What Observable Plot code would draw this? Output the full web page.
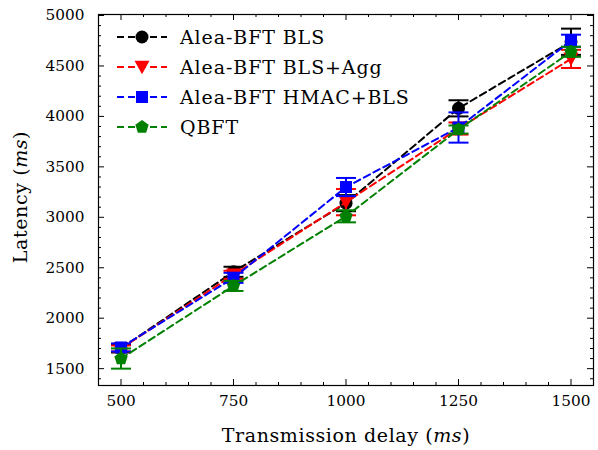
<!DOCTYPE html>
<html><head><meta charset="utf-8">
<script src="https://cdn.jsdelivr.net/npm/d3@7"></script>
<script src="https://cdn.jsdelivr.net/npm/@observablehq/plot@0.6"></script>
<style>
body{margin:0;background:#fff;}
#wrap{position:relative;width:598px;height:450px;font-family:"DejaVu Serif",serif;color:#000;}
#wrap svg{font-family:"DejaVu Serif",serif;}
.lab{position:absolute;font-size:19px;letter-spacing:0.6px;white-space:nowrap;}
#legend{position:absolute;left:114px;top:22px;}
.row{display:flex;align-items:center;height:30px;font-size:19px;letter-spacing:0.9px;}
.row svg{margin-right:10px;}
</style></head><body><div id="wrap"></div>
<script>
const delays = [500, 750, 1000, 1250, 1500];
const seriesNames = ["Alea-BFT BLS", "Alea-BFT BLS+Agg", "Alea-BFT HMAC+BLS", "QBFT"];
const seriesColors = ["#000000", "#ff0000", "#0000ff", "#008000"];
const blsMean    = [1700, 2460, 3140, 4080, 4740];
const blsErr     = [40, 50, 80, 80, 130];
const blsAggMean = [1700, 2430, 3150, 3880, 4570];
const blsAggErr  = [30, 40, 130, 60, 90];
const hmacMean   = [1710, 2400, 3300, 3890, 4750];
const hmacErr    = [40, 50, 90, 150, 60];
const qbftMean   = [1600, 2320, 3010, 3870, 4640];
const qbftErr    = [100, 50, 60, 40, 50];
const xTicks = [500, 750, 1000, 1250, 1500];
const yTicks = [1500, 2000, 2500, 3000, 3500, 4000, 4500, 5000];

const means = [blsMean, blsAggMean, hmacMean, qbftMean];
const errs = [blsErr, blsAggErr, hmacErr, qbftErr];

const sym = (f) => ({draw(ctx, size) { f(ctx, Math.sqrt(size / Math.PI)); }});
const circleSym = sym((c, r) => { c.moveTo(r, 0); c.arc(0, 0, r, 0, 2 * Math.PI); });
const triDownSym = sym((c, r) => { c.moveTo(-r, -r * 0.85); c.lineTo(r, -r * 0.85); c.lineTo(0, r * 0.95); c.closePath(); });
const squareSym = sym((c, r) => { c.rect(-r, -r, 2 * r, 2 * r); });
const pentSym = sym((c, r) => {
  for (let i = 0; i < 5; i++) {
    const a = -Math.PI / 2 + i * 2 * Math.PI / 5;
    const px = r * Math.cos(a), py = r * Math.sin(a);
    if (i === 0) c.moveTo(px, py); else c.lineTo(px, py);
  }
  c.closePath();
});
const capSym = sym((c, r) => { c.moveTo(-r, 0); c.lineTo(r, 0); });
const symbols = [circleSym, triDownSym, squareSym, pentSym];
const radii = [6.5, 7.5, 6, 7];

const rows = seriesNames.map((name, i) => delays.map((x, j) => ({series: name, x, y: means[i][j], err: errs[i][j]})));

const marks = [];
rows.forEach((data, i) => {
  const color = seriesColors[i];
  marks.push(Plot.line(data, {x: "x", y: "y", stroke: color, strokeWidth: 2, strokeDasharray: "7,4"}));
  marks.push(Plot.ruleX(data, {x: "x", y1: d => d.y - d.err, y2: d => d.y + d.err, stroke: color, strokeWidth: 2}));
  marks.push(Plot.dot(data, {x: "x", y: d => d.y - d.err, symbol: capSym, r: 10, stroke: color, strokeWidth: 2, fill: "none"}));
  marks.push(Plot.dot(data, {x: "x", y: d => d.y + d.err, symbol: capSym, r: 10, stroke: color, strokeWidth: 2, fill: "none"}));
  marks.push(Plot.dot(data, {x: "x", y: "y", symbol: symbols[i], r: radii[i], fill: color, stroke: "none"}));
});

const xMinor = d3.range(450, 1551, 50).filter(v => !xTicks.includes(v));
const yMinor = d3.range(1400, 5001, 100).filter(v => !yTicks.includes(v));

const W = 598, H = 450, mL = 98, mR = 5, mT = 14, mB = 65;
const fw = W - mL - mR, fh = H - mT - mB;
const tk = {stroke: "#000", strokeWidth: 1};

const chart = Plot.plot({
  width: W, height: H,
  marginLeft: mL, marginRight: mR, marginTop: mT, marginBottom: mB,
  style: {fontFamily: "DejaVu Serif, serif", fontSize: "16px", background: "#fff", color: "#000"},
  x: {domain: [450, 1550]},
  y: {domain: [1333, 5010]},
  marks: [
    ...marks,
    Plot.axisX(xTicks, {anchor: "bottom", tickSize: 0, tickPadding: 10, tickFormat: d => String(d), fontSize: 16, label: null}),
    Plot.axisY(yTicks, {anchor: "left", tickSize: 0, tickPadding: 14, tickFormat: d => String(d), fontSize: 16, label: null}),
    Plot.tickX(xTicks, {x: d => d, insetTop: fh - 6, ...tk}),
    Plot.tickX(xTicks, {x: d => d, insetBottom: fh - 6, ...tk}),
    Plot.tickX(xMinor, {x: d => d, insetTop: fh - 3, ...tk}),
    Plot.tickX(xMinor, {x: d => d, insetBottom: fh - 3, ...tk}),
    Plot.tickY(yTicks, {y: d => d, insetRight: fw - 6, ...tk}),
    Plot.tickY(yTicks, {y: d => d, insetLeft: fw - 6, ...tk}),
    Plot.tickY(yMinor, {y: d => d, insetRight: fw - 3, ...tk}),
    Plot.tickY(yMinor, {y: d => d, insetLeft: fw - 3, ...tk}),
    Plot.frame({stroke: "#000", strokeWidth: 1.2})
  ]
});

const wrap = document.getElementById("wrap");
wrap.appendChild(chart);

// fit tick-label font so that "5000" is about 39px wide, as in the reference
const tickTexts = d3.select(chart).selectAll("text").filter(function() { return /^\d+$/.test(this.textContent); });
const probe = tickTexts.filter(function() { return this.textContent === "5000"; }).node();
if (probe) {
  const w = probe.getComputedTextLength();
  if (w > 0) {
    const fs = 16 * 39 / w;
    tickTexts.style("font-size", fs + "px");
  }
}

const xl = document.createElement("div");
xl.className = "lab";
xl.innerHTML = "Transmission delay (<i>ms</i>)";
xl.style.left = "346px"; xl.style.top = "435px"; xl.style.transform = "translate(-50%,-50%)";
wrap.appendChild(xl);

const yl = document.createElement("div");
yl.className = "lab";
yl.innerHTML = "Latency (<i>ms</i>)";
yl.style.left = "20px"; yl.style.top = "197px"; yl.style.transform = "translate(-50%,-50%) rotate(-90deg)";
wrap.appendChild(yl);

const legend = document.createElement("div");
legend.id = "legend";
seriesNames.forEach((name, i) => {
  const row = document.createElement("div");
  row.className = "row";
  const s = d3.create("svg").attr("width", 56).attr("height", 20);
  s.append("line").attr("x1", 3).attr("x2", 53).attr("y1", 10).attr("y2", 10)
    .attr("stroke", seriesColors[i]).attr("stroke-width", 2).attr("stroke-dasharray", "7,4");
  s.append("path").attr("transform", "translate(28,10)")
    .attr("d", d3.symbol(symbols[i], Math.PI * radii[i] * radii[i])())
    .attr("fill", seriesColors[i]);
  row.appendChild(s.node());
  const t = document.createElement("span");
  t.textContent = name;
  row.appendChild(t);
  legend.appendChild(row);
});
wrap.appendChild(legend);
</script>
</body></html>
